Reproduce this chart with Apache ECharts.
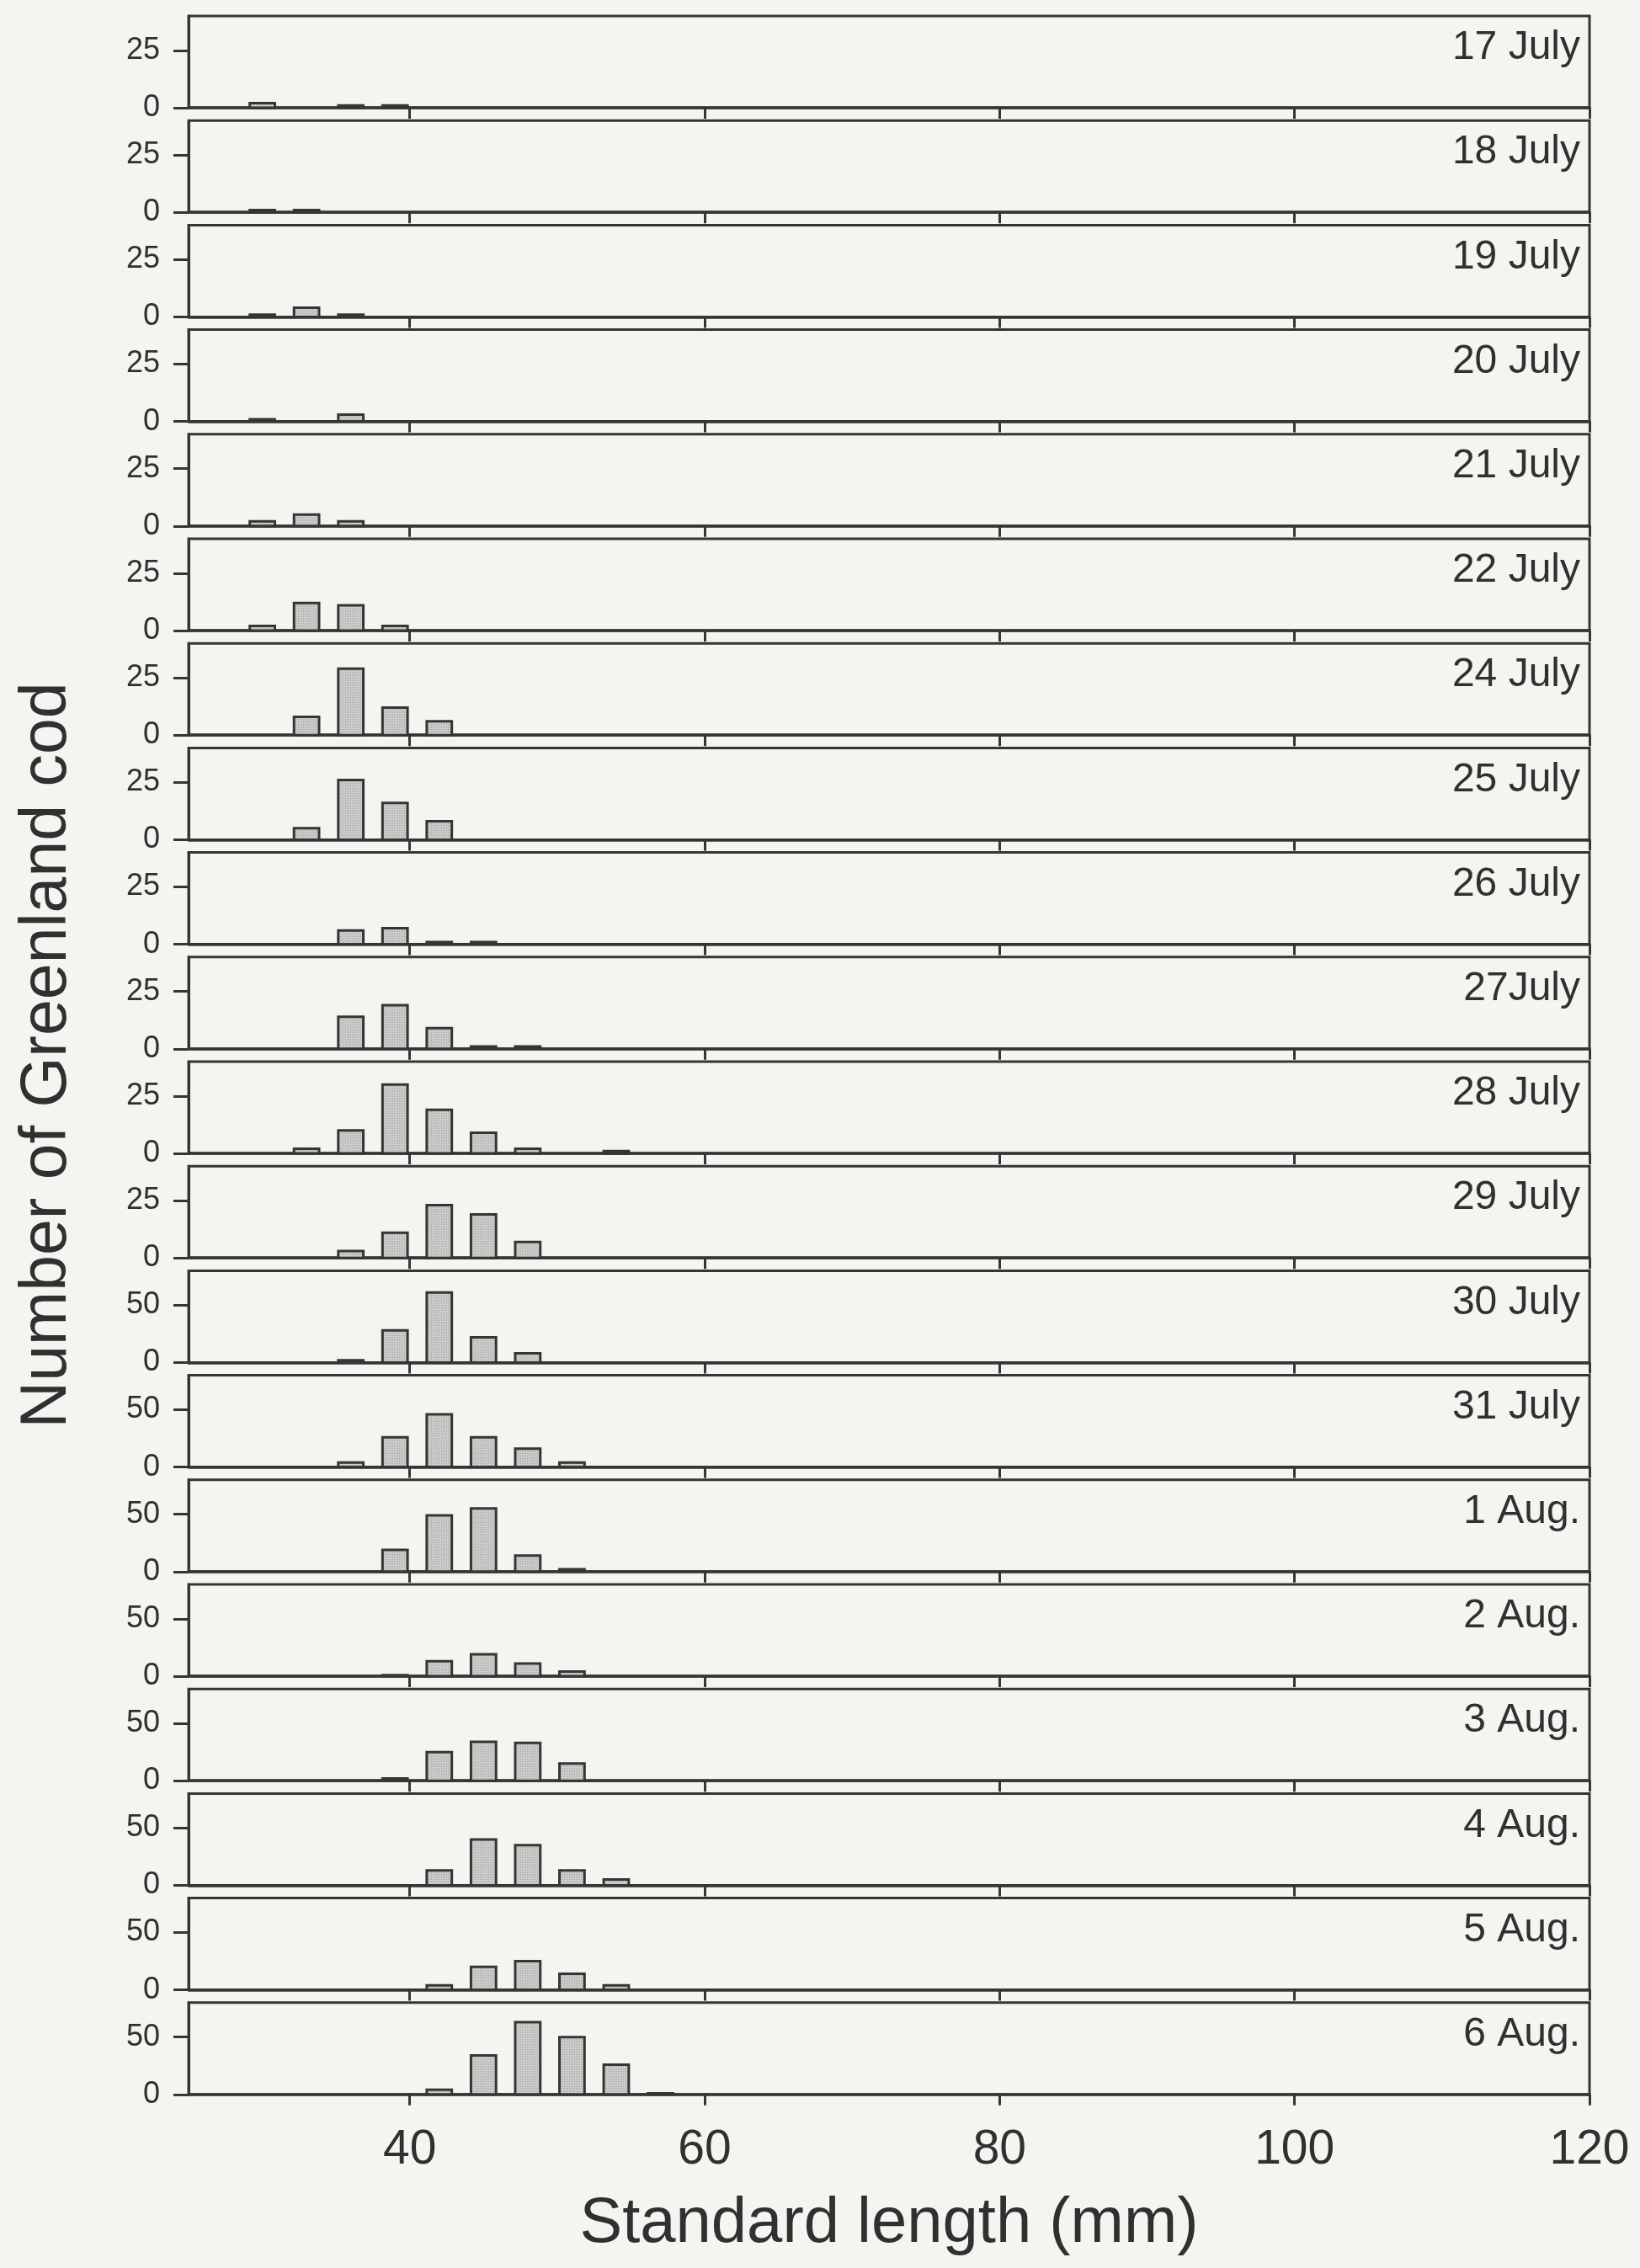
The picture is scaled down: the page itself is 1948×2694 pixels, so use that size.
<!DOCTYPE html>
<html>
<head>
<meta charset="utf-8">
<title>Greenland cod length frequencies</title>
<script src="https://cdn.jsdelivr.net/npm/echarts@6/dist/echarts.min.js"></script>
<style>
  html, body { margin: 0; padding: 0; background: #f4f4f1; }
  #chart { width: 1948px; height: 2694px; }
</style>
</head>
<body>
<div id="chart"></div>
<script>
// Standard-length bin centres (mm), 3 mm classes
const lengthBins = [30, 33, 36, 39, 42, 45, 48, 51, 54, 57];

// Number of fish per length class for each sampling day
const jul17 = [2, 0, 1, 1, 0, 0, 0, 0, 0, 0];
const jul18 = [1, 1, 0, 0, 0, 0, 0, 0, 0, 0];
const jul19 = [1, 4, 1, 0, 0, 0, 0, 0, 0, 0];
const jul20 = [1, 0, 3, 0, 0, 0, 0, 0, 0, 0];
const jul21 = [2, 5, 2, 0, 0, 0, 0, 0, 0, 0];
const jul22 = [2, 12, 11, 2, 0, 0, 0, 0, 0, 0];
const jul24 = [0, 8, 29, 12, 6, 0, 0, 0, 0, 0];
const jul25 = [0, 5, 26, 16, 8, 0, 0, 0, 0, 0];
const jul26 = [0, 0, 6, 7, 1, 1, 0, 0, 0, 0];
const jul27 = [0, 0, 14, 19, 9, 1, 1, 0, 0, 0];
const jul28 = [0, 2, 10, 30, 19, 9, 2, 0, 1, 0];
const jul29 = [0, 0, 3, 11, 23, 19, 7, 0, 0, 0];
const jul30 = [0, 0, 2, 28, 61, 22, 8, 0, 0, 0];
const jul31 = [0, 0, 4, 26, 46, 26, 16, 4, 0, 0];
const aug1 = [0, 0, 0, 19, 49, 55, 14, 2, 0, 0];
const aug2 = [0, 0, 0, 1, 13, 19, 11, 4, 0, 0];
const aug3 = [0, 0, 0, 2, 25, 34, 33, 15, 0, 0];
const aug4 = [0, 0, 0, 0, 13, 40, 35, 13, 5, 0];
const aug5 = [0, 0, 0, 0, 4, 20, 25, 14, 4, 0];
const aug6 = [0, 0, 0, 0, 4, 34, 63, 50, 26, 1];

const dayLabels = ['17 July', '18 July', '19 July', '20 July', '21 July', '22 July',
  '24 July', '25 July', '26 July', '27July', '28 July', '29 July', '30 July',
  '31 July', '1 Aug.', '2 Aug.', '3 Aug.', '4 Aug.', '5 Aug.', '6 Aug.'];
const dayCounts = [jul17, jul18, jul19, jul20, jul21, jul22, jul24, jul25, jul26,
  jul27, jul28, jul29, jul30, jul31, aug1, aug2, aug3, aug4, aug5, aug6];

// Axis scales
const xTickValues = [40, 60, 80, 100, 120];
const smallYTicks = [0, 25];
const largeYTicks = [0, 50];
const smallYMax = 40;
const largeYMax = 80;
const firstLargePanel = 12;   // panels from 30 July on use the 0-80 scale

// ---- layout ----
const W = 1948;
const PLOT_LEFT = 224, PLOT_RIGHT = 1888;
const FIRST_TOP = 19, PANEL_STEP = 124.2, PANEL_H = 109;
const BAR_HALF = 0.85;          // half bar width in mm
const INK = '#353535';
const TEXT = '#303030';
const FONT = '"Liberation Sans", Arial, Helvetica, sans-serif';

// stippled grey fill used for the bars
function makeStipple() {
  const c = document.createElement('canvas');
  c.width = 4; c.height = 4;
  const g = c.getContext('2d');
  g.fillStyle = '#d4d4d2';
  g.fillRect(0, 0, 4, 4);
  g.fillStyle = '#a4a4a2';
  g.fillRect(0, 0, 1, 1); g.fillRect(2, 2, 1, 1);
  g.fillRect(2, 0, 1, 1); g.fillRect(0, 2, 1, 1);
  g.fillStyle = '#b9b9b7';
  g.fillRect(1, 1, 1, 1); g.fillRect(3, 3, 1, 1);
  return c;
}
const stipple = { type: 'pattern', image: makeStipple(), repeat: 'repeat' };

const chart = echarts.init(document.getElementById('chart'), null, { renderer: 'canvas' });

const grids = [], xAxes = [], yAxes = [], series = [], graphics = [];
const nPanels = dayLabels.length;

dayCounts.forEach((counts, k) => {
  const top = FIRST_TOP + k * PANEL_STEP;
  const large = k >= firstLargePanel;
  const last = k === nPanels - 1;
  const yTicks = large ? largeYTicks : smallYTicks;

  grids.push({
    left: PLOT_LEFT, right: W - PLOT_RIGHT, top: top, height: PANEL_H,
    show: true, borderColor: INK, borderWidth: 3, backgroundColor: 'transparent'
  });

  xAxes.push({
    gridIndex: k, type: 'value', min: 25, max: 120,
    axisLine: { show: true, onZero: false, lineStyle: { color: INK, width: 3.5 } },
    axisTick: { show: true, customValues: xTickValues, length: 13, lineStyle: { color: INK, width: 3 } },
    axisLabel: {
      show: last, customValues: xTickValues, fontSize: 57, color: TEXT,
      fontFamily: FONT, margin: 38
    },
    splitLine: { show: false },
    name: last ? 'Standard length (mm)' : '',
    nameLocation: 'middle', nameGap: 116,
    nameTextStyle: { fontSize: 76, color: TEXT, fontFamily: FONT }
  });

  yAxes.push({
    gridIndex: k, type: 'value', min: 0, max: large ? largeYMax : smallYMax,
    axisLine: { show: true, lineStyle: { color: INK, width: 3 } },
    axisTick: { show: true, customValues: yTicks, length: 18, lineStyle: { color: INK, width: 3 } },
    axisLabel: { show: true, customValues: yTicks, fontSize: 36, color: TEXT, fontFamily: FONT, margin: 34 },
    splitLine: { show: false }
  });

  const points = [];
  counts.forEach((n, i) => { if (n > 0) points.push([lengthBins[i], n]); });

  series.push({
    type: 'custom',
    xAxisIndex: k, yAxisIndex: k,
    data: points,
    silent: true,
    renderItem: function (params, api) {
      const x = api.value(0), n = api.value(1);
      const p0 = api.coord([x - BAR_HALF, n]);
      const p1 = api.coord([x + BAR_HALF, 0]);
      return {
        type: 'rect',
        shape: { x: p0[0], y: p0[1], width: p1[0] - p0[0], height: p1[1] - p0[1] },
        style: { fill: stipple, stroke: INK, lineWidth: 3 }
      };
    }
  });

  graphics.push({
    type: 'text',
    x: PLOT_RIGHT - 11, y: top + 38,
    style: {
      text: dayLabels[k], fill: TEXT, fontSize: 48, fontFamily: FONT,
      align: 'right', verticalAlign: 'middle'
    }
  });
});

// vertical axis title, centred on the stack of panels
const stackMid = FIRST_TOP + ((nPanels - 1) * PANEL_STEP + PANEL_H) / 2;
graphics.push({
  type: 'text',
  x: 57, y: stackMid, rotation: Math.PI / 2,
  style: {
    text: 'Number of Greenland cod', fill: TEXT, fontSize: 77, fontFamily: FONT,
    align: 'center', verticalAlign: 'middle'
  }
});

chart.setOption({
  backgroundColor: '#f4f4f1',
  animation: false,
  grid: grids,
  xAxis: xAxes,
  yAxis: yAxes,
  series: series,
  graphic: graphics
});
</script>
</body>
</html>
